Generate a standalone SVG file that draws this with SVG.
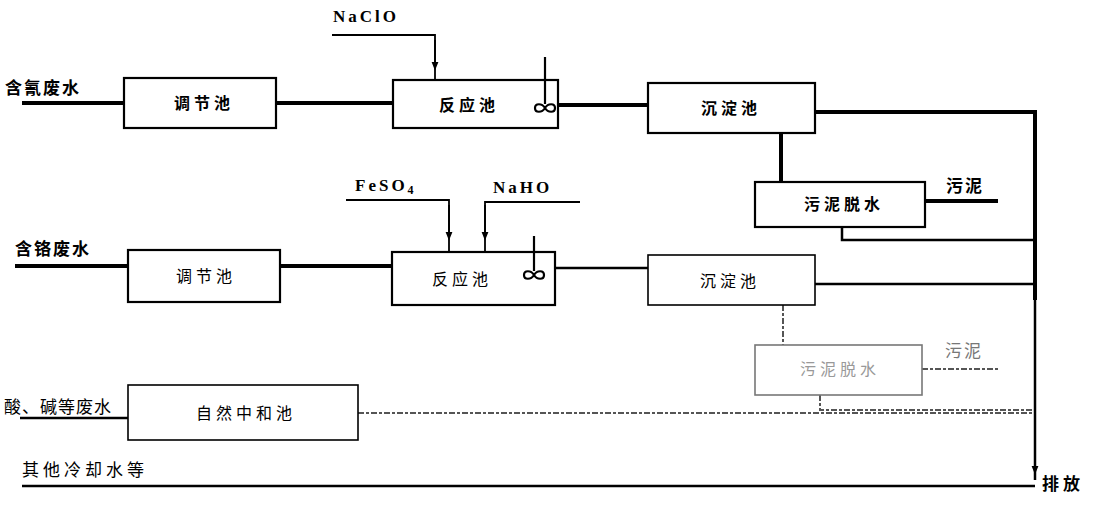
<svg xmlns="http://www.w3.org/2000/svg" width="1094" height="507" viewBox="0 0 1094 507">
<defs>
<style>
.box{fill:#fff;stroke:#000;stroke-width:2.2}
.fbox{fill:#fff;stroke:#777;stroke-width:1.6}
.t{font-family:"Noto Sans CJK SC","Liberation Sans",sans-serif;font-size:16px;font-weight:bold;fill:#000;text-anchor:middle;letter-spacing:4px}
.lbl{font-family:"Noto Sans CJK SC","Liberation Sans",sans-serif;font-size:17px;font-weight:bold;fill:#000;letter-spacing:2px}
.chem{font-family:"Liberation Serif",serif;font-size:17px;font-weight:bold;fill:#000;letter-spacing:3px}
.thick{fill:none;stroke:#000;stroke-width:4}
.mid{fill:none;stroke:#000;stroke-width:2.5}
.thin{fill:none;stroke:#000;stroke-width:1.8}
.faint{fill:none;stroke:#555;stroke-width:2;stroke-dasharray:6 2 3 2}
.mix{fill:none;stroke:#000;stroke-width:2.2}
</style>
<marker id="ah" viewBox="0 0 10 10" refX="5" refY="5" markerWidth="5" markerHeight="6" orient="auto"><path d="M0,1 L10,5 L0,9 Z" fill="#000"/></marker>
</defs>

<g id="connectors">
<path class="thick" d="M22,103 H124"/>
<path class="thick" d="M276,103 H393"/>
<path class="thin" d="M332,35 H435 V80"/>
<path class="thin" d="M435,40 V66" marker-end="url(#ah)"/>
<path class="thick" d="M558,105 H648"/>
<path class="thick" d="M815,112 H1037"/>
<path class="thick" d="M781,133 V182"/>
<path class="thick" d="M925,201 H998"/>
<path class="mid" d="M842,227 V240 H1035"/>
<path class="thick" d="M15,266 H128"/>
<path class="thick" d="M280,266 H392"/>
<path class="thin" d="M346,200 H449 V252"/>
<path class="thin" d="M449,205 V236" marker-end="url(#ah)"/>
<path class="thin" d="M580,202 H485 V252"/>
<path class="thin" d="M485,205 V236" marker-end="url(#ah)"/>
<path class="mid" d="M555,268 H648"/>
<path class="mid" d="M815,284 H1035"/>
<path class="faint" d="M783,305 V345"/>
<path class="faint" d="M922,369 H1000"/>
<path class="faint" d="M820,395 V410 H1035"/>
<path class="mid" d="M20,418 H128"/>
<path class="faint" d="M358,413 H1035"/>
<path class="mid" d="M22,486 H1035"/>
<path class="thick" d="M1035,110 V300"/>
<path class="mid" d="M1035,300 V480"/>
<path class="thin" d="M1035,440 V470" marker-end="url(#ah)"/>
</g>

<g id="label-cyanide"><text class="lbl" x="5" y="94">含氰废水</text></g>
<g id="label-chromium"><text class="lbl" x="15" y="255">含铬废水</text></g>
<g id="label-acid"><text class="lbl" x="4" y="413" style="font-weight:normal;letter-spacing:1px">酸、碱等废水</text></g>
<g id="label-cooling"><text class="lbl" x="22" y="476" style="font-weight:normal;letter-spacing:4px">其他冷却水等</text></g>
<g id="label-discharge"><text class="lbl" x="1042" y="490" style="letter-spacing:4px">排放</text></g>

<g id="chem-naclo"><text class="chem" x="333" y="22">NaClO</text></g>
<g id="chem-feso4"><text class="chem" x="355" y="191">FeSO<tspan font-size="12" dy="3">4</tspan></text></g>
<g id="chem-naho"><text class="chem" x="493" y="193">NaHO</text></g>

<g id="tiaojie1"><rect class="box" x="124" y="78" width="152" height="50"/><text class="t" x="204" y="109">调节池</text></g>
<g id="fanying1"><rect class="box" x="393" y="80" width="165" height="48"/><text class="t" x="469" y="111">反应池</text>
<path class="mix" d="M545,57 V104"/><path class="mix" d="M545,108 c-3,-5 -10,-5 -10,0 c0,5 7,5 10,0 c3,-5 10,-5 10,0 c0,5 -7,5 -10,0 Z"/></g>
<g id="chendian1"><rect class="box" x="648" y="83" width="167" height="50"/><text class="t" x="731" y="114">沉淀池</text></g>
<g id="wuni1"><rect class="box" x="755" y="182" width="170" height="45"/><text class="t" x="844" y="210">污泥脱水</text></g>
<g id="sludge1"><text class="lbl" x="946" y="192">污泥</text></g>

<g id="tiaojie2"><rect class="box" x="128" y="250" width="152" height="52"/><text class="t" x="206" y="282" style="font-weight:normal">调节池</text></g>
<g id="fanying2"><rect class="box" x="392" y="252" width="163" height="53"/><text class="t" x="462" y="285" style="font-weight:normal">反应池</text>
<path class="mix" d="M534,236 V271"/><path class="mix" d="M534,275 c-3,-5 -10,-5 -10,0 c0,5 7,5 10,0 c3,-5 10,-5 10,0 c0,5 -7,5 -10,0 Z"/></g>
<g id="chendian2"><rect class="box" x="648" y="255" width="167" height="50" style="stroke-width:1.6"/><text class="t" x="730" y="287" style="font-weight:normal">沉淀池</text></g>
<g id="wuni2"><rect class="fbox" x="755" y="345" width="167" height="50"/><text class="t" x="840" y="375" style="font-weight:normal;fill:#999">污泥脱水</text></g>
<g id="sludge2"><text class="lbl" x="945" y="357" style="font-weight:normal;fill:#777">污泥</text></g>

<g id="zhonghe"><rect class="box" x="128" y="385" width="230" height="55" style="stroke-width:1.6"/><text class="t" x="246" y="419" style="font-weight:normal">自然中和池</text></g>
</svg>
